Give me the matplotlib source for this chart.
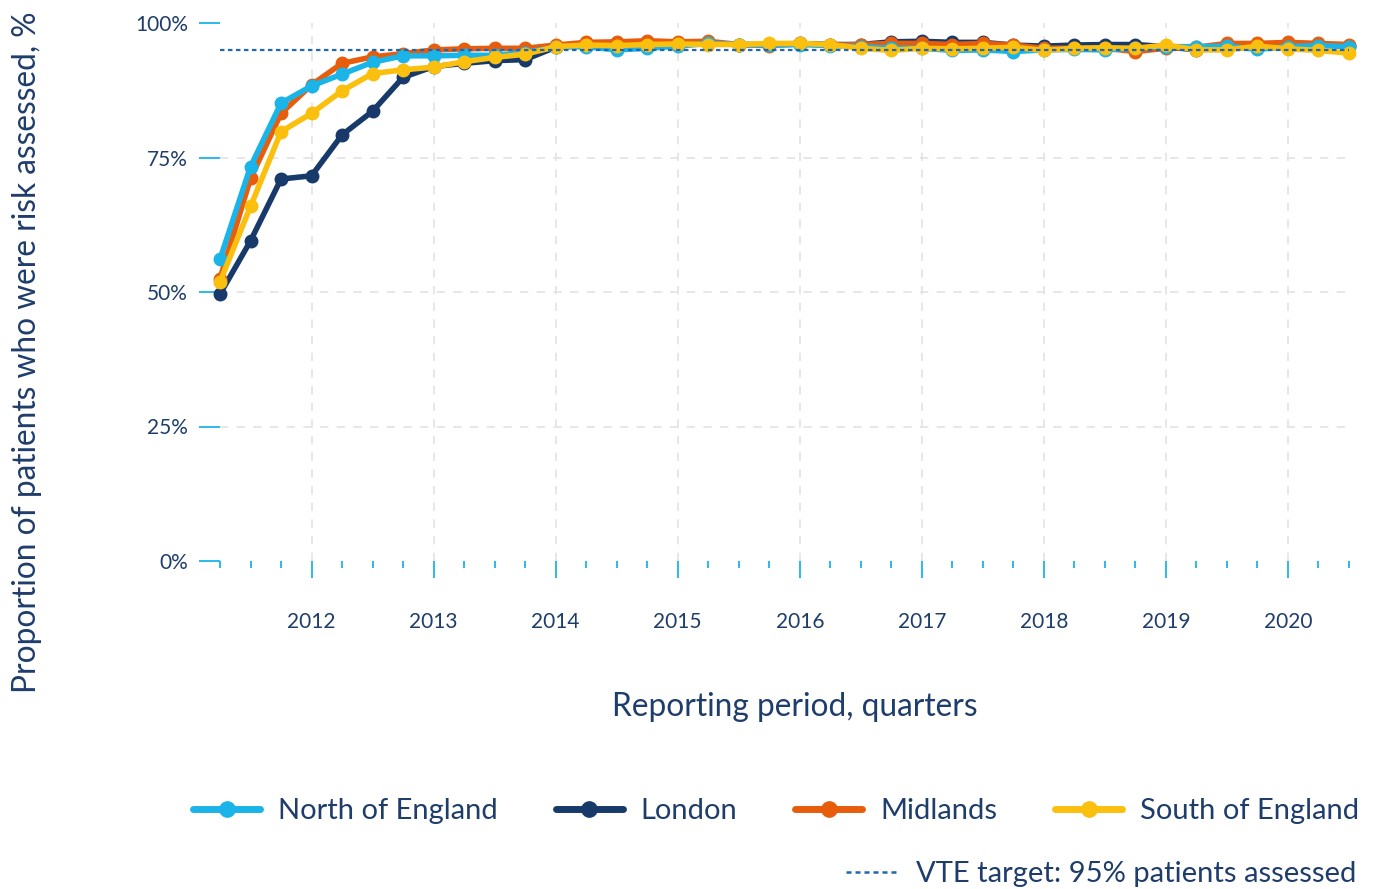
import matplotlib
matplotlib.use("Agg")
import matplotlib.pyplot as plt
from matplotlib.lines import Line2D
from matplotlib.ticker import FuncFormatter

plt.rcParams["font.family"] = ["Lato", "DejaVu Sans"]

# Quarterly reporting periods (year, quarter)
periods = [
    "2011 Q2", "2011 Q3", "2011 Q4",
    "2012 Q1", "2012 Q2", "2012 Q3", "2012 Q4",
    "2013 Q1", "2013 Q2", "2013 Q3", "2013 Q4",
    "2014 Q1", "2014 Q2", "2014 Q3", "2014 Q4",
    "2015 Q1", "2015 Q2", "2015 Q3", "2015 Q4",
    "2016 Q1", "2016 Q2", "2016 Q3", "2016 Q4",
    "2017 Q1", "2017 Q2", "2017 Q3", "2017 Q4",
    "2018 Q1", "2018 Q2", "2018 Q3", "2018 Q4",
    "2019 Q1", "2019 Q2", "2019 Q3", "2019 Q4",
    "2020 Q1", "2020 Q2", "2020 Q3",
]

north = [56.1, 73.3, 85.1, 88.3, 90.5, 92.7, 93.9, 93.9, 94.0, 94.0, 94.5, 95.5,
         95.6, 95.0, 95.3, 95.7, 96.2, 96.0, 95.9, 96.0, 95.8, 95.6, 95.3, 95.3,
         94.9, 95.0, 94.7, 95.0, 95.1, 95.0, 95.3, 95.6, 95.6, 95.7, 95.1, 95.6,
         95.8, 95.6]
london = [49.6, 59.5, 71.0, 71.6, 79.2, 83.6, 89.9, 91.9, 92.5, 93.0, 93.2, 95.5,
          95.9, 96.2, 96.2, 96.3, 96.3, 96.0, 96.0, 96.2, 96.0, 96.0, 96.5, 96.6,
          96.4, 96.4, 95.9, 95.7, 95.9, 96.0, 96.0, 95.6, 95.0, 95.9, 96.0, 95.8,
          96.0, 95.8]
midlands = [52.5, 71.1, 83.2, 88.5, 92.5, 93.7, 94.3, 95.0, 95.2, 95.3, 95.3, 95.9,
            96.4, 96.5, 96.7, 96.5, 96.6, 96.0, 95.8, 96.1, 95.9, 96.0, 96.2, 96.2,
            96.0, 96.2, 95.9, 95.3, 95.3, 95.3, 94.7, 95.3, 95.5, 96.2, 96.2, 96.4,
            96.2, 96.0]
south = [51.9, 65.9, 79.8, 83.2, 87.4, 90.6, 91.3, 91.8, 92.8, 93.6, 94.2, 95.6,
         95.9, 95.8, 96.0, 96.1, 96.0, 96.0, 96.2, 96.2, 96.0, 95.3, 94.9, 95.3,
         95.2, 95.3, 95.5, 94.9, 95.3, 95.4, 95.3, 95.9, 95.0, 95.0, 95.7, 95.2,
         94.9, 94.4]
target = 95

year_ticks = [2012, 2013, 2014, 2015, 2016, 2017, 2018, 2019, 2020]
pct_ticks = [0, 25, 50, 75, 100]

# periods -> fractional years, Q1 sits on the year tick
x = [int(p[:4]) + (int(p[-1]) - 1) / 4 for p in periods]

navy = "#1f3d6b"
tick_blue = "#1ab4e8"

fig = plt.figure(figsize=(13.74, 8.89), dpi=100)
ax = fig.add_axes([220 / 1374, 1 - 561 / 889, 1129 / 1374, 538 / 889])

series = [
    ("London", london, "#173a6b"),
    ("Midlands", midlands, "#e85d0c"),
    ("North of England", north, "#1ab4e8"),
    ("South of England", south, "#fbbf0e"),
]
for name, vals, col in series:
    ax.plot(x, vals, color=col, lw=4, marker="o", ms=9, clip_on=False,
            solid_capstyle="round", zorder=3)

ax.plot([x[0], x[-1]], [target, target], color="#2066b0", lw=1.6,
        linestyle=(0, (2, 1.6)), zorder=4)

ax.set_xlim(x[0], x[-1])
ax.set_ylim(0, 100)

for s in ax.spines.values():
    s.set_visible(False)

ax.set_xticks(year_ticks)
ax.set_xticks(x, minor=True)
ax.set_yticks(pct_ticks)
ax.yaxis.set_major_formatter(FuncFormatter(lambda v, p: f"{int(v)}%"))

ax.tick_params(axis="x", which="major", length=12, width=1.3, color=tick_blue,
               direction="out", pad=25, labelsize=15, labelcolor=navy)
ax.tick_params(axis="x", which="minor", length=5, width=1.3, color=tick_blue,
               direction="out")
ax.tick_params(axis="y", length=15, width=1.3, color=tick_blue,
               direction="out", pad=8, labelsize=15, labelcolor=navy)

ax.grid(True, which="major", color="#e3e3e3", lw=1.2, linestyle=(0, (5, 5)))
ax.set_axisbelow(True)
ygrid = ax.yaxis.get_gridlines()
ygrid[0].set_visible(False)
ygrid[-1].set_visible(False)

ax.set_xlabel("Reporting period, quarters", fontsize=22.8, color=navy)
ax.xaxis.set_label_coords(0.509, -0.244)
ax.set_ylabel("Proportion of patients who were risk assessed, %", fontsize=22.8,
              color=navy)
ax.yaxis.set_label_coords(-0.158, 0.388)

legend_order = ["North of England", "London", "Midlands", "South of England"]
cols = {name: col for name, _, col in series}
handles = [Line2D([], [], color=cols[n], lw=5, marker="o", ms=11,
                  solid_capstyle="round") for n in legend_order]
fig.legend(handles, legend_order, loc="center", ncol=4,
           bbox_to_anchor=(776 / 1374, 1 - 811 / 889), frameon=False,
           fontsize=21, labelcolor=navy, handlelength=2.3,
           handletextpad=0.6, columnspacing=2.0)

tgt = [Line2D([], [], color="#2066b0", lw=1.8, linestyle=(0, (2, 1.6)))]
fig.legend(tgt, ["VTE target: 95% patients assessed"], loc="center right",
           bbox_to_anchor=(1383 / 1374, 1 - 874 / 889), frameon=False,
           fontsize=21, labelcolor=navy, handlelength=1.8, handletextpad=0.6)

fig.savefig("out.png", dpi=100)
